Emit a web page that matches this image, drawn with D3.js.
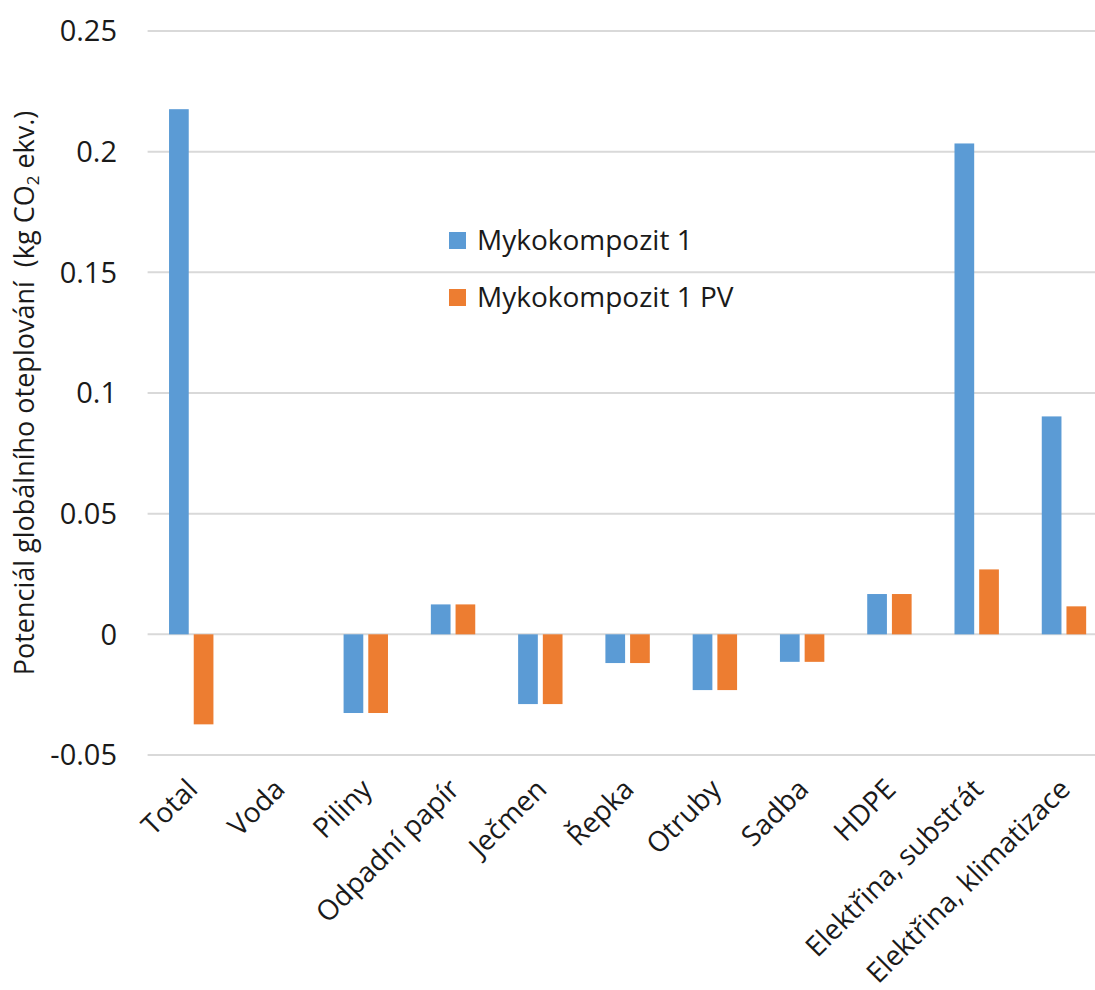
<!DOCTYPE html>
<html>
<head>
<meta charset="utf-8">
<script src="https://cdn.jsdelivr.net/npm/d3@7"></script>
<style>
  html, body { margin: 0; padding: 0; background: #fff; }
  svg { display: block; font-family: "Open Sans", "Noto Sans", sans-serif; }
</style>
</head>
<body>
<svg id="chart" width="1095" height="990"></svg>
<script>
// Categories along the x axis
const categories = ["Total", "Voda", "Piliny", "Odpadní papír", "Ječmen", "Řepka",
  "Otruby", "Sadba", "HDPE", "Elektřina, substrát", "Elektřina, klimatizace"];

// Series names and their values (kg CO2 ekv.)
const seriesNames = ["Mykokompozit 1", "Mykokompozit 1 PV"];
const mykokompozit1 = [0.2176, 0, -0.0326, 0.0124, -0.0289, -0.0119, -0.0231, -0.0114, 0.0167, 0.2034, 0.0903];
const mykokompozit1PV = [-0.0373, 0, -0.0326, 0.0124, -0.0289, -0.0119, -0.0231, -0.0114, 0.0167, 0.0269, 0.0116];

// Y axis ticks
const yTicks = [-0.05, 0, 0.05, 0.1, 0.15, 0.2, 0.25];
const yTickLabels = ["-0.05", "0", "0.05", "0.1", "0.15", "0.2", "0.25"];

const colors = ["#5B9BD5", "#ED7D31"];
const seriesValues = [mykokompozit1, mykokompozit1PV];
const textColor = "#1a1a1a";

const svg = d3.select("#chart");

const plotLeft = 147.6, plotRight = 1107.6;
const y = d3.scaleLinear().domain([-0.05, 0.25]).range([755, 31]);
const x0 = d3.scaleBand().domain(categories).range([plotLeft, plotRight]);
const groupWidth = 44.4;
const x1 = d3.scaleBand().domain(seriesNames).range([0, groupWidth]).paddingInner(0.2024);
const groupOffset = (x0.bandwidth() - groupWidth) / 2;

// Horizontal gridlines (including the zero line)
svg.append("g")
  .selectAll("line")
  .data(yTicks)
  .join("line")
  .attr("x1", plotLeft)
  .attr("x2", plotRight)
  .attr("y1", d => y(d))
  .attr("y2", d => y(d))
  .attr("stroke", "#d9d9d9")
  .attr("stroke-width", 2);

// Y tick labels
svg.append("g")
  .selectAll("text")
  .data(yTicks)
  .join("text")
  .attr("x", 117)
  .attr("y", d => y(d))
  .attr("dy", "0.36em")
  .attr("text-anchor", "end")
  .attr("font-size", 29)
  .attr("fill", textColor)
  .text((d, i) => yTickLabels[i]);

// Bars
const rows = categories.map((c, i) => ({ cat: c, vals: seriesValues.map((s, k) => ({ name: seriesNames[k], v: s[i], k })) }));

const groups = svg.append("g")
  .selectAll("g")
  .data(rows)
  .join("g")
  .attr("transform", d => `translate(${x0(d.cat) + groupOffset},0)`);

groups.selectAll("rect")
  .data(d => d.vals.filter(e => e.v !== 0))
  .join("rect")
  .attr("x", d => x1(d.name))
  .attr("width", x1.bandwidth())
  .attr("y", d => Math.min(y(d.v), y(0)))
  .attr("height", d => Math.abs(y(d.v) - y(0)))
  .attr("fill", d => colors[d.k]);

// Category labels, rotated
svg.append("g")
  .selectAll("text")
  .data(categories)
  .join("text")
  .attr("text-anchor", "end")
  .attr("font-size", 28)
  .attr("fill", textColor)
  .attr("transform", d => `translate(${x0(d) + x0.bandwidth() / 2 + 8},${791}) rotate(-45)`)
  .text(d => d);

// Y axis title with subscript
const title = svg.append("text")
  .attr("transform", "translate(34,393) rotate(-90)")
  .attr("text-anchor", "middle")
  .attr("font-size", 27)
  .attr("fill", textColor)
  .attr("xml:space", "preserve")
  .style("white-space", "pre");
title.append("tspan").text("Potenciál globálního oteplování  (kg CO");
title.append("tspan").attr("font-size", 17).attr("dy", 5).text("2");
title.append("tspan").attr("dy", -5).text(" ekv.)");

// Legend
const legend = svg.append("g")
  .selectAll("g")
  .data(seriesNames)
  .join("g")
  .attr("transform", (d, i) => `translate(449,${232 + i * 57})`);
legend.append("rect")
  .attr("width", 17)
  .attr("height", 17)
  .attr("fill", (d, i) => colors[i]);
legend.append("text")
  .attr("x", 28)
  .attr("y", 18)
  .attr("font-size", 28)
  .attr("fill", textColor)
  .text(d => d);
</script>
</body>
</html>
